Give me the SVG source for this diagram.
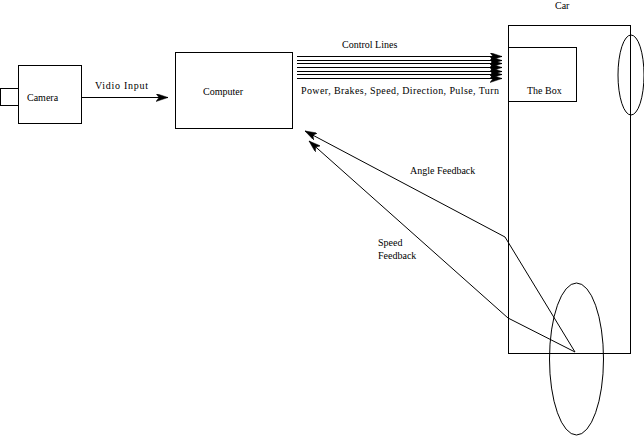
<svg xmlns="http://www.w3.org/2000/svg" width="644" height="436" viewBox="0 0 644 436">
<defs>
<style>
.box{fill:none;stroke:#000;stroke-width:1}
.ln{fill:none;stroke:#000;stroke-width:1}
text{font-family:"Liberation Serif","Times New Roman",serif;font-size:10px;fill:#000}
</style>
<marker id="ah" markerWidth="14" markerHeight="8" refX="12" refY="4" orient="auto" markerUnits="userSpaceOnUse">
<path d="M0,0 L12,4 L0,8 L3,4 Z" fill="#000" stroke="#000" stroke-width="0.5"/>
</marker>
</defs>
<rect width="644" height="436" fill="#fff"/>
<g id="camera">
<rect class="box" x="18.5" y="65.5" width="63" height="58"/>
<rect class="box" x="0.5" y="88.5" width="18" height="17"/>
<text x="27" y="101">Camera</text>
</g>
<g id="computer">
<rect class="box" x="175.5" y="52.5" width="117" height="76"/>
<text x="203" y="95">Computer</text>
</g>
<g id="car">
<rect class="box" x="508.5" y="25.5" width="122" height="328"/>
<text x="555" y="9">Car</text>
<ellipse class="box" cx="631" cy="75" rx="13" ry="40"/>
<ellipse class="box" cx="576.5" cy="359" rx="27" ry="76"/>
</g>
<g id="thebox">
<rect class="box" x="508.5" y="47.5" width="68" height="54"/>
<text x="527" y="94">The Box</text>
</g>
<g id="connectors">
<line class="ln" x1="82" y1="97.5" x2="168" y2="97.5" marker-end="url(#ah)"/>
<line class="ln" x1="297" y1="56.5" x2="502" y2="56.5" marker-end="url(#ah)"/>
<line class="ln" x1="297" y1="60.5" x2="502" y2="60.5" marker-end="url(#ah)"/>
<line class="ln" x1="297" y1="63.5" x2="502" y2="63.5" marker-end="url(#ah)"/>
<line class="ln" x1="297" y1="67.5" x2="502" y2="67.5" marker-end="url(#ah)"/>
<line class="ln" x1="297" y1="71.5" x2="502" y2="71.5" marker-end="url(#ah)"/>
<line class="ln" x1="297" y1="74.5" x2="502" y2="74.5" marker-end="url(#ah)"/>
<line class="ln" x1="297" y1="78.5" x2="502" y2="78.5" marker-end="url(#ah)"/>
<polyline class="ln" points="575,352 505,237 305,131" marker-end="url(#ah)"/>
<polyline class="ln" points="575,352 508,318 309,141" marker-end="url(#ah)"/>
</g>
<g id="labels">
<text x="95" y="89" textLength="53" lengthAdjust="spacing">Vidio Input</text>
<text x="342" y="48">Control Lines</text>
<text x="301" y="94" textLength="198" lengthAdjust="spacing">Power, Brakes, Speed, Direction, Pulse, Turn</text>
<text x="410" y="174">Angle Feedback</text>
<text x="378" y="246">Speed</text>
<text x="378" y="259">Feedback</text>
</g>
</svg>
